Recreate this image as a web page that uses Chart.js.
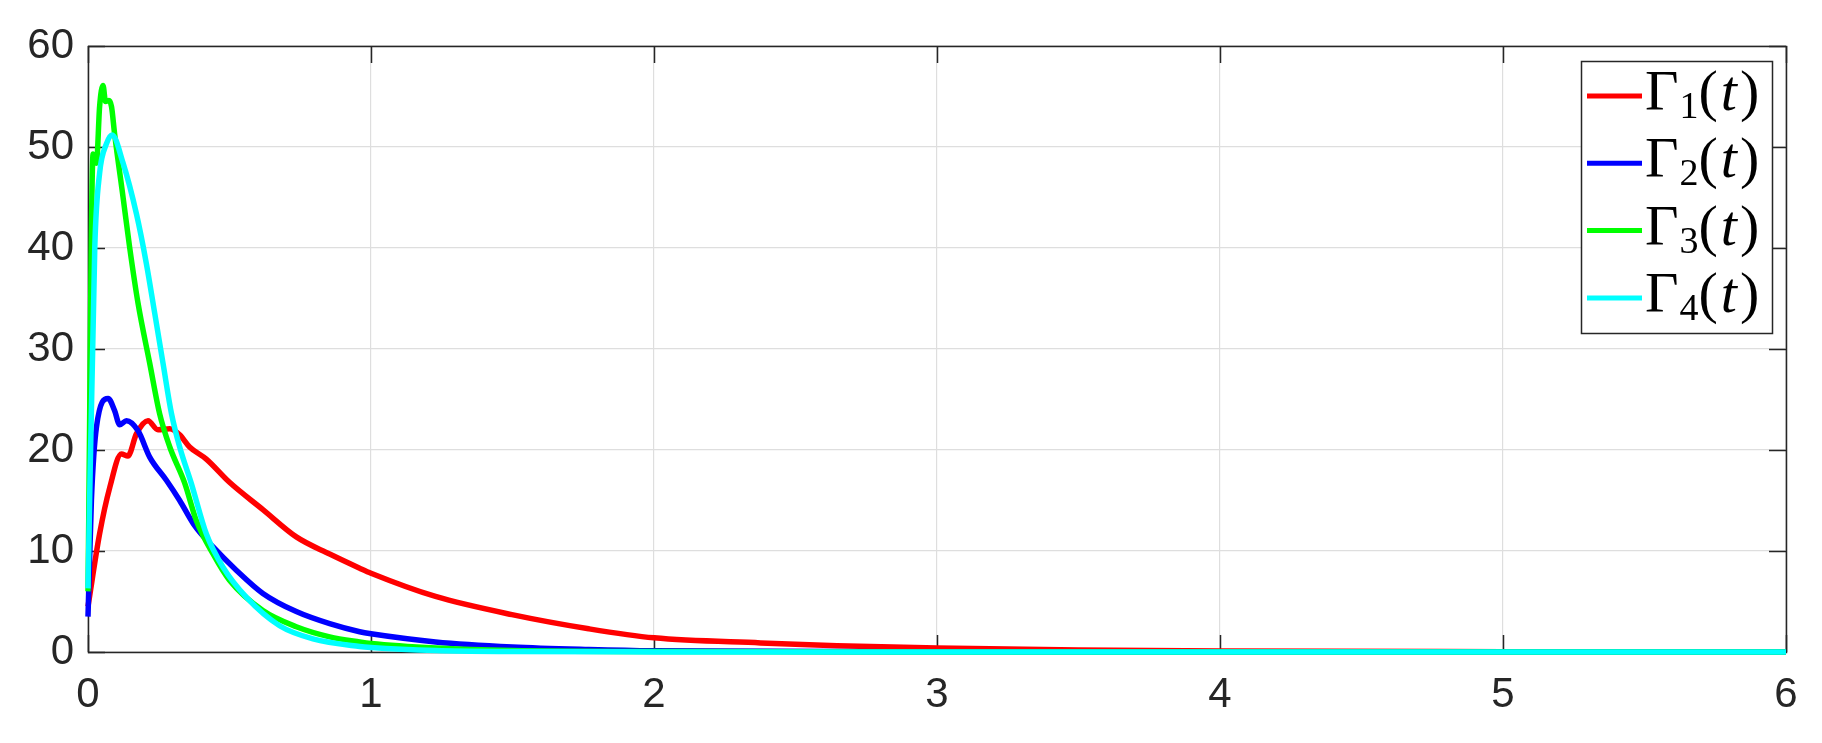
<!DOCTYPE html>
<html>
<head>
<meta charset="utf-8">
<script src="https://cdn.jsdelivr.net/npm/chart.js@4.4.1/dist/chart.umd.min.js"></script>
<style>
	html, body { margin: 0; padding: 0; background: #ffffff; }
	#chart { display: block; }
</style>
</head>
<body>
<canvas id="chart" width="1822" height="743"></canvas>
<script>
'use strict';

// values
var xTicks = [0, 1, 2, 3, 4, 5, 6];
var yTicks = [0, 10, 20, 30, 40, 50, 60];

var seriesNames = ['1', '2', '3', '4'];
var seriesColors = ['#ff0000', '#0000ff', '#00ff00', '#00ffff'];

var gamma1T = [0, 0.041, 0.077, 0.118, 0.141, 0.171, 0.212, 0.247, 0.289, 0.324, 0.359, 0.418, 0.5, 0.618, 0.736, 0.854, 0.96, 1, 1.228, 1.498, 1.769, 2, 2.377, 2.647, 3, 3.5, 4, 5, 6];
var gamma1V = [4.5, 11.7, 16.3, 19.6, 19.4, 21.6, 22.9, 22.0, 22.1, 21.5, 20.3, 19.1, 16.8, 14.1, 11.4, 9.7, 8.3, 7.8, 5.5, 3.7, 2.3, 1.4, 0.9, 0.63, 0.4, 0.2, 0.1, 0.03, 0.01];

var gamma2T = [0, 0.012, 0.03, 0.071, 0.094, 0.112, 0.136, 0.177, 0.218, 0.277, 0.324, 0.377, 0.442, 0.524, 0.618, 0.736, 0.854, 0.96, 1, 1.228, 1.5, 1.77, 2, 3, 4, 6];
var gamma2V = [3.5, 15, 22.3, 25.1, 23.9, 22.5, 22.9, 21.9, 19.3, 17.0, 15.0, 12.5, 10.4, 8.1, 5.8, 4.0, 2.8, 2.0, 1.8, 1.0, 0.5, 0.25, 0.12, 0.02, 0.005, 0];

var gamma3T = [0, 0.018, 0.03, 0.041, 0.053, 0.062, 0.074, 0.083, 0.094, 0.124, 0.147, 0.177, 0.218, 0.253, 0.289, 0.342, 0.383, 0.442, 0.5, 0.618, 0.736, 0.854, 0.96, 1, 1.23, 1.5, 2, 3, 6];
var gamma3V = [6, 49.3, 48.4, 54, 56.1, 54.5, 54.6, 54, 51.3, 45, 40.1, 34.5, 28.6, 23.6, 20.3, 16.7, 13.0, 9.7, 7.1, 4.1, 2.5, 1.5, 1.0, 0.85, 0.4, 0.15, 0.05, 0.005, 0];

var gamma4T = [0, 0.024, 0.041, 0.065, 0.085, 0.124, 0.171, 0.206, 0.236, 0.265, 0.295, 0.324, 0.365, 0.418, 0.477, 0.56, 0.677, 0.795, 0.96, 1, 1.23, 1.5, 2, 3, 6];
var gamma4V = [6.3, 40.1, 47.4, 50.3, 51.2, 48.4, 43.4, 38.5, 33.5, 28.6, 23.6, 20.3, 16.7, 11.7, 8.4, 5.4, 2.6, 1.3, 0.55, 0.45, 0.15, 0.05, 0.01, 0, 0];

var axisColor = '#262626';
var gridColor = '#dedede';

function points(ts, vs) {
	var out = [];
	for (var i = 0; i < ts.length; i++) {
		out.push({x: ts[i], y: vs[i]});
	}
	return out;
}

var allT = [gamma1T, gamma2T, gamma3T, gamma4T];
var allV = [gamma1V, gamma2V, gamma3V, gamma4V];

var datasets = [];
for (var i = 0; i < seriesNames.length; i++) {
	datasets.push({
		label: 'Γ' + seriesNames[i] + '(t)',
		data: points(allT[i], allV[i]),
		borderColor: seriesColors[i],
		backgroundColor: seriesColors[i],
		borderWidth: 5.5,
		pointRadius: 0,
		cubicInterpolationMode: 'monotone',
		fill: false,
		clip: 8,
		order: seriesNames.length - i
	});
}

// box round the axes with inward ticks, like the original figure
var framePlugin = {
	id: 'frame',
	beforeDatasetsDraw: function (chart) {
		var ctx = chart.ctx;
		var a = chart.chartArea;
		var xs = chart.scales.x;
		var ys = chart.scales.y;
		var tl = 17;
		ctx.save();
		ctx.strokeStyle = axisColor;
		ctx.lineWidth = 1.5;
		ctx.beginPath();
		for (var i = 0; i < xTicks.length; i++) {
			var px = Math.round(xs.getPixelForValue(xTicks[i])) + 0.5;
			ctx.moveTo(px, a.bottom);
			ctx.lineTo(px, a.bottom - tl);
			ctx.moveTo(px, a.top);
			ctx.lineTo(px, a.top + tl);
		}
		for (var j = 0; j < yTicks.length; j++) {
			var py = Math.round(ys.getPixelForValue(yTicks[j])) + 0.5;
			ctx.moveTo(a.left, py);
			ctx.lineTo(a.left + tl, py);
			ctx.moveTo(a.right, py);
			ctx.lineTo(a.right - tl, py);
		}
		ctx.stroke();
		ctx.strokeRect(Math.round(a.left) + 0.5, Math.round(a.top) + 0.5, Math.round(a.right - a.left), Math.round(a.bottom - a.top));
		ctx.restore();
	}
};

// legend box in the upper right corner
var legendPlugin = {
	id: 'gammaLegend',
	afterDraw: function (chart) {
		var ctx = chart.ctx;
		var left = 1581, top = 61, w = 191, h = 272;
		ctx.save();
		ctx.fillStyle = '#ffffff';
		ctx.fillRect(left, top, w, h);
		ctx.strokeStyle = axisColor;
		ctx.lineWidth = 1.5;
		ctx.strokeRect(left + 0.5, top + 0.5, w, h);
		for (var i = 0; i < seriesNames.length; i++) {
			var cy = 96 + i * 67.3;
			ctx.strokeStyle = seriesColors[i];
			ctx.lineWidth = 5;
			ctx.beginPath();
			ctx.moveTo(1587, cy);
			ctx.lineTo(1642, cy);
			ctx.stroke();

			var base = cy + 14;
			var x = 1645;
			ctx.fillStyle = '#000000';
			ctx.textBaseline = 'alphabetic';
			ctx.textAlign = 'left';
			ctx.font = '58px "Liberation Serif"';
			ctx.fillText('Γ', x, base);
			x += ctx.measureText('Γ').width + 1;
			ctx.font = '38px "Liberation Serif"';
			ctx.fillText(seriesNames[i], x, base + 8);
			x += ctx.measureText(seriesNames[i]).width;
			ctx.font = '58px "Liberation Serif"';
			ctx.fillText('(', x, base);
			x += ctx.measureText('(').width + 3;
			ctx.font = 'italic 58px "Liberation Serif"';
			ctx.fillText('t', x, base);
			x += ctx.measureText('t').width + 3;
			ctx.font = '58px "Liberation Serif"';
			ctx.fillText(')', x, base);
		}
		ctx.restore();
	}
};

var config = {
	type: 'line',
	data: {datasets: datasets},
	options: {
		responsive: false,
		animation: false,
		devicePixelRatio: 1,
		layout: {
			padding: {top: 46, right: 36, left: 0, bottom: 0}
		},
		plugins: {
			legend: {display: false},
			tooltip: {enabled: false}
		},
		scales: {
			x: {
				type: 'linear',
				min: 0,
				max: 6,
				afterFit: function (scale) { scale.height = 91; },
				afterBuildTicks: function (scale) {
					scale.ticks = xTicks.map(function (v) { return {value: v}; });
				},
				grid: {color: gridColor, lineWidth: 1.2, drawTicks: false},
				border: {display: false},
				ticks: {
					color: axisColor,
					padding: 18,
					maxRotation: 0,
					font: {family: '"Liberation Sans", Arial, sans-serif', size: 42}
				}
			},
			y: {
				type: 'linear',
				min: 0,
				max: 60,
				afterFit: function (scale) { scale.width = 88; },
				afterBuildTicks: function (scale) {
					scale.ticks = yTicks.map(function (v) { return {value: v}; });
				},
				grid: {color: gridColor, lineWidth: 1.2, drawTicks: false},
				border: {display: false},
				ticks: {
					color: axisColor,
					padding: 14,
					font: {family: '"Liberation Sans", Arial, sans-serif', size: 42}
				}
			}
		}
	},
	plugins: [framePlugin, legendPlugin]
};

var gammaChart = new Chart(document.getElementById('chart'), config);
</script>
</body>
</html>
